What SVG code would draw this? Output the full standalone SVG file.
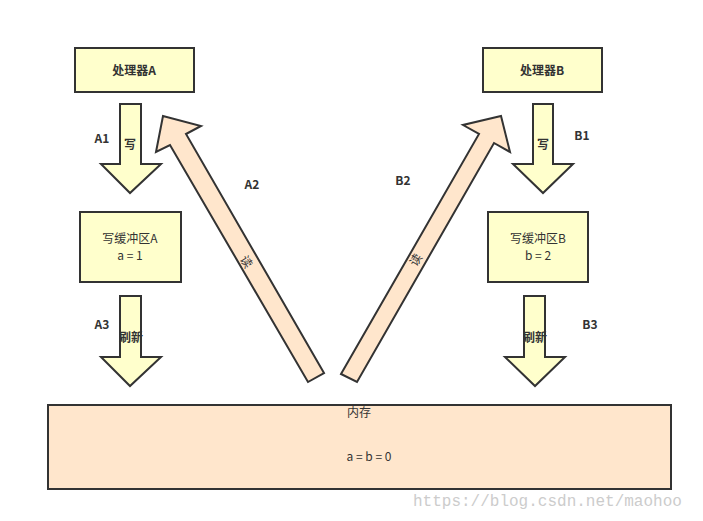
<svg xmlns="http://www.w3.org/2000/svg" width="703" height="521" viewBox="0 0 703 521">
<style>
.y{fill:#ffffcc;stroke:#333;stroke-width:2}
.o{fill:#ffe6cc;stroke:#333;stroke-width:2}
.t{font-family:"Noto Sans CJK SC","Noto Sans",sans-serif;font-size:12px;fill:#333;text-anchor:middle}
.b{font-weight:bold}
</style>
<rect width="703" height="521" fill="#fff"/>
<g id="connectors">
<polygon class="y" points="120,104 141,104 141,164 161,164 130,193 101,164 120,164"/>
<polygon class="y" points="120,296 141,296 141,357 161,357 130,386 101,357 120,357"/>
<polygon class="y" points="513,104 533,104 533,164 572,164 543,193 513,164 513,164" style="display:none"/>
<polygon class="y" points="513,104 533,104 533,164 553,164 523,193 493,164 513,164" transform="translate(20,0)"/>
<polygon class="y" points="524,296 545,296 545,357 565,357 535,386 505,357 524,357"/>
<polygon class="o" points="324,373 186,134 201,126 163,116 156,152 170,145 308,382"/>
<polygon class="o" points="341,374 479,134 463,125 501,116 510,152 494,143 357,382"/>
<text class="t b" x="102" y="143">A1</text>
<text class="t b" x="130" y="149">写</text>
<text class="t b" x="252" y="189">A2</text>
<text class="t b" x="102" y="329">A3</text>
<text class="t b" x="131" y="342">刷新</text>
<text class="t b" x="403" y="185">B2</text>
<text class="t b" x="582" y="140">B1</text>
<text class="t b" x="543" y="149">写</text>
<text class="t b" x="590" y="329">B3</text>
<text class="t b" x="535" y="342">刷新</text>
<text class="t" x="0" y="4" transform="translate(246,262) rotate(58)">读</text>
<text class="t" x="0" y="4" transform="translate(416,260) rotate(-58)">读</text>
</g>
<g id="procA"><rect class="y" x="75" y="48" width="119" height="44"/><text class="t b" x="134" y="75">处理器A</text></g>
<g id="procB"><rect class="y" x="483" y="48" width="119" height="44"/><text class="t b" x="542" y="75">处理器B</text></g>
<g id="bufA"><rect class="y" x="80" y="212" width="101" height="70"/><text class="t" x="130" y="243">写缓冲区A</text><text class="t" x="130" y="260">a = 1</text></g>
<g id="bufB"><rect class="y" x="488" y="212" width="100" height="70"/><text class="t" x="538" y="243">写缓冲区B</text><text class="t" x="538" y="260">b = 2</text></g>
<g id="mem"><rect class="o" x="48" y="405" width="623" height="84"/><text class="t" x="359" y="417">内存</text><text class="t" x="369" y="461">a = b = 0</text></g>
<text x="413" y="506" font-family="Liberation Mono,monospace" font-size="16" fill="#ccc">https://blog.csdn.net/maohoo</text>
</svg>
